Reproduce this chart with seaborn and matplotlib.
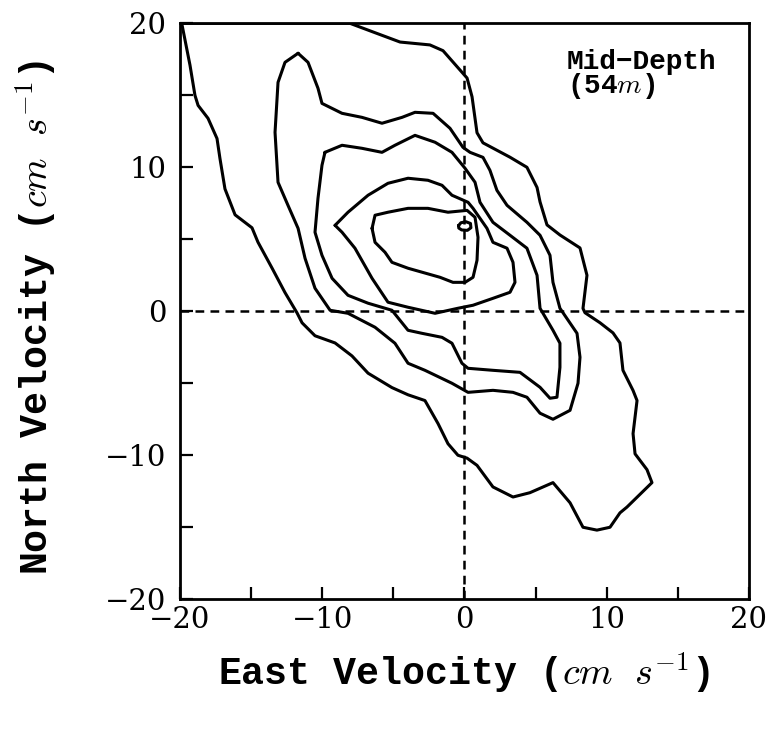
import matplotlib
matplotlib.use("Agg")
import matplotlib.pyplot as plt
import seaborn as sns
import pandas as pd

# ---- data (cm/s) ----
c1_x = [-20.0, -8.05, -6.43, -4.53, -2.43, -1.51, 0.18, 0.53, 0.88, 1.30, 3.20, 4.39, 5.10, 5.31,
        5.80, 6.71, 8.12, 8.61, 8.33, 8.47, 9.53, 10.44, 10.93, 11.14, 11.85, 12.13, 11.85, 11.99,
        12.83, 13.18, 11.42, 10.93, 10.23, 9.31, 8.33, 7.42, 6.22, 4.60, 3.41, 2.00, 0.88, 0.18,
        -0.46, -1.16, -1.86, -2.78, -3.97, -5.10, -6.78, -7.91, -9.10, -10.51, -11.42, -11.78,
        -12.62, -13.53, -14.52, -14.94, -16.13, -16.84, -17.19, -17.40, -18.03, -18.73, -18.95,
        -19.30, -19.86]
c1_y = [20.0, 20.0, 19.4, 18.7, 18.5, 18.1, 16.2, 14.9, 12.4, 11.7, 10.7, 10.0, 8.6, 7.6,
        6.0, 5.3, 4.4, 2.5, 0.2, -0.1, -0.8, -1.5, -2.2, -4.1, -5.5, -6.2, -8.5, -9.9,
        -11.0, -11.9, -13.6, -14.0, -15.0, -15.2, -15.0, -13.3, -11.9, -12.6, -12.9, -12.2, -10.7, -10.2,
        -10.0, -9.2, -7.8, -6.2, -5.8, -5.3, -4.3, -3.1, -2.2, -1.7, -0.8, -0.1,
        1.3, 3.0, 4.8, 5.8, 6.7, 8.5, 10.6, 12.0, 13.4, 14.3, 15.0,
        17.1, 19.9]

c2_x = [-11.70, -11.00, -10.30, -10.02, -8.61, -7.21, -5.80, -4.39, -3.48, -2.21, -1.02, -0.11,
        0.39, 1.30, 1.79, 2.28, 2.99, 4.39, 5.31, 6.01, 6.22, 6.71, 7.91, 8.12, 7.98, 7.42, 6.22,
        5.31, 4.39, 3.41, 2.00, 0.25, -0.88, -2.78, -3.97, -4.89, -6.29, -8.19, -9.45, -10.51,
        -11.21, -11.70, -12.41, -13.11, -13.32, -13.11, -12.62]
c2_y = [17.92, 17.29, 15.49, 14.44, 13.75, 13.47, 13.06, 13.47, 13.82, 13.75, 12.71, 11.39,
        11.04, 10.69, 9.79, 8.40, 7.36, 6.18, 5.28, 3.89, 2.01, 0.21, -1.53, -3.19, -5.00, -6.88, -7.50,
        -7.08, -5.97, -5.63, -5.49, -5.63, -5.00, -4.10, -3.61, -2.22, -1.11, -0.14, 0.07, 1.60,
        3.68, 5.76, 7.36, 8.96, 12.43, 15.90, 17.29]

c3_x = [-9.81, -8.61, -7.21, -5.80, -4.89, -3.48, -2.07, -0.88, 0.04, 0.74, 1.09, 2.00, 3.20,
        4.39, 5.10, 5.31, 6.22, 6.71, 6.71, 6.50, 6.01, 5.31, 3.90, 2.00, 0.25, -0.18, -0.88,
        -1.58, -2.99, -3.97, -5.10, -6.78, -8.19, -9.31, -10.02, -10.51, -10.30, -10.02]
c3_y = [11.04, 11.53, 11.32, 11.04, 11.53, 12.22, 11.74, 11.04, 9.93, 8.96, 7.57, 6.18, 5.28,
        4.38, 2.50, 0.21, -1.32, -2.22, -3.89, -5.97, -6.04, -5.28, -4.24, -4.10, -3.96, -3.61, -2.22,
        -1.81, -1.53, -1.32, 0.07, 0.56, 1.11, 2.29, 3.89, 5.49, 7.85, 10.14]

c4_x = [-9.10, -8.19, -6.78, -5.38, -3.97, -2.57, -1.58, -0.88, 0.25, 0.60, 1.58, 2.00, 2.99,
        3.41, 3.55, 3.20, 2.00, 0.60, -0.46, -2.07, -3.97, -5.38, -6.50, -7.70, -8.61]
c4_y = [5.97, 6.88, 8.06, 8.89, 9.24, 9.10, 8.75, 8.06, 7.57, 7.15, 5.76, 4.79, 4.38,
        3.40, 2.01, 1.32, 0.90, 0.42, 0.21, -0.14, 0.28, 0.63, 2.29, 4.38, 5.49]

c5_x = [-6.50, -6.29, -5.38, -3.97, -2.57, -1.16, 0.18, 0.74, 0.95, 0.88, 0.60, 0.04, -0.81,
        -1.72, -3.97, -5.10, -5.59, -6.29]
c5_y = [5.76, 6.67, 6.88, 7.15, 7.15, 6.88, 7.01, 6.53, 5.14, 3.54, 2.36, 2.01, 2.01,
        2.36, 2.99, 3.40, 4.10, 4.79]

c6_x = [-0.42, -0.25, 0.10, 0.42, 0.45, 0.20, -0.20, -0.40]
c6_y = [5.95, 6.15, 6.22, 6.10, 5.80, 5.62, 5.65, 5.78]

contours = {"c1": (c1_x, c1_y), "c2": (c2_x, c2_y), "c3": (c3_x, c3_y),
            "c4": (c4_x, c4_y), "c5": (c5_x, c5_y), "c6": (c6_x, c6_y)}

tick_values = [-20, -15, -10, -5, 0, 5, 10, 15, 20]
tick_labels = ["\u221220", "", "\u221210", "", "0", "", "10", "", "20"]

x_label = r"East Velocity ($cm\ \ s^{-1}$)"
y_label = r"North Velocity ($cm\ \ s^{-1}$)"
note = "Mid\u2212Depth\n(54$m$)"

# ---- build long table ----
rows = []
for name, (xs, ys) in contours.items():
    pts = list(zip(xs, ys)) + [(xs[0], ys[0])]
    for i, (x, y) in enumerate(pts):
        rows.append({"level": name, "order": i, "x": x, "y": y})
df = pd.DataFrame(rows)

sns.set_style("white")
plt.rcParams["font.family"] = ["Liberation Mono", "DejaVu Sans"]
plt.rcParams["mathtext.fontset"] = "cm"
plt.rcParams["text.color"] = "black"
plt.rcParams["axes.labelcolor"] = "black"
plt.rcParams["xtick.color"] = "black"
plt.rcParams["ytick.color"] = "black"

fig = plt.figure(figsize=(7.81, 7.29), dpi=100)
ax = fig.add_axes([0.2305, 0.178, 0.7285, 0.79])

sns.lineplot(data=df, x="x", y="y", units="level", estimator=None, sort=False,
             color="black", linewidth=2.2, ax=ax, legend=False,
             solid_joinstyle="round", solid_capstyle="round")

ax.axhline(0, color="black", lw=1.8, ls=(0, (3.5, 2.5)), zorder=1)
ax.axvline(0, color="black", lw=1.8, ls=(0, (3.5, 2.5)), zorder=1)

ax.set_xlim(-20, 20)
ax.set_ylim(-20, 20)
ax.set_xticks(tick_values)
ax.set_yticks(tick_values)
ax.set_xticklabels(tick_labels, fontfamily="DejaVu Serif", fontsize=21, color="black")
ax.set_yticklabels(tick_labels, fontfamily="DejaVu Serif", fontsize=21, color="black")
ax.tick_params(axis="both", direction="in", length=9, width=1.6, color="black",
               bottom=True, left=True, top=False, right=False)
ax.tick_params(axis="x", pad=5)
ax.tick_params(axis="y", pad=10)

for s in ax.spines.values():
    s.set_linewidth(2.0)
    s.set_color("black")

ax.set_xlabel(x_label, fontsize=27.5, fontweight="bold", color="black")
ax.set_ylabel(y_label, fontsize=27.5, fontweight="bold", color="black")
ax.xaxis.set_label_coords(0.5, -0.088)
ax.yaxis.set_label_coords(-0.215, 0.49)

ax.text(0.68, 0.955, note, transform=ax.transAxes, fontsize=20, fontweight="bold",
        va="top", ha="left", linespacing=0.8, color="black")

fig.savefig("out.png", dpi=100)
